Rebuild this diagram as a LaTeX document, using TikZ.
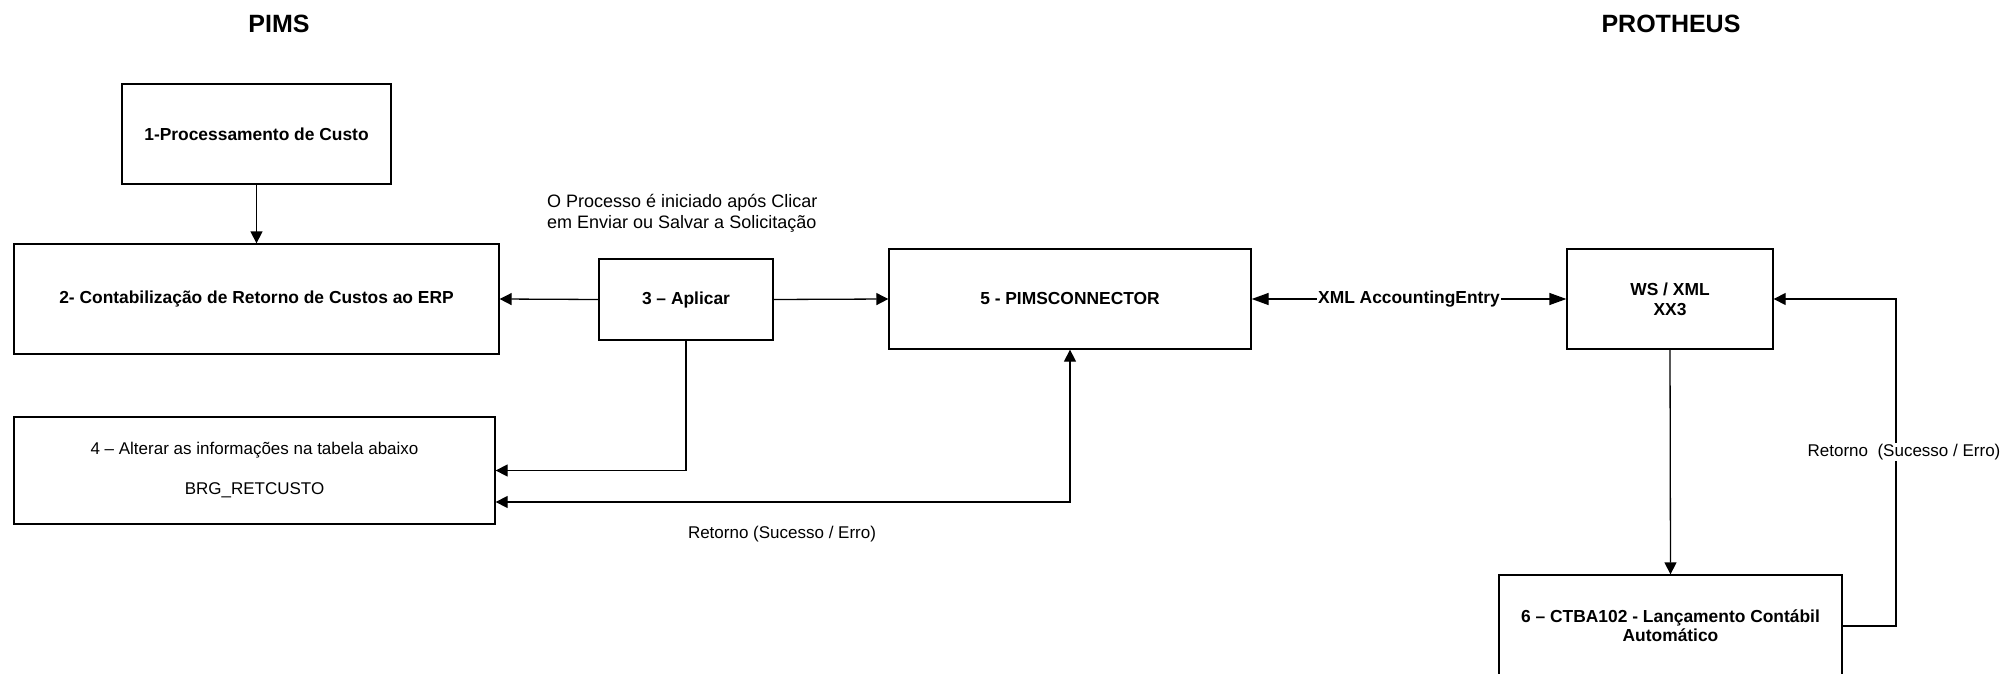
\documentclass[tikz,border=0pt]{standalone}
\usepackage{fontspec}
\setmainfont{Liberation Sans}
\usetikzlibrary{arrows.meta}
\begin{document}
\begin{tikzpicture}[x=1pt,y=-1pt,
  box/.style={draw, line width=1.3pt, inner sep=0pt, align=center,
    font=\fontsize{17.4}{20}\selectfont\bfseries},
  plainbox/.style={box, font=\fontsize{17}{20}\selectfont},
  txt/.style={inner sep=0pt, font=\fontsize{17}{20}\selectfont},
  title/.style={inner sep=0pt, font=\fontsize{25}{30}\selectfont\bfseries},
  tip/.tip={Triangle[length=12pt,width=12pt]},
  longtip/.tip={Triangle[length=17pt,width=12pt]},
  conn/.style={line width=1.3pt, -tip},
  dconn/.style={line width=1.3pt, tip-tip}]

\useasboundingbox (0,0) rectangle (2008,674);

% titles
\node[title] (tpims) at (279,24) {PIMS};
\node[title] (tprot) at (1671,24) {PROTHEUS};

% boxes
\node[box, minimum width=269pt, minimum height=100pt] (b1) at (256.5,134) {1-Processamento de Custo};
\node[box, minimum width=485pt, minimum height=110pt] (b2) at (256.5,299) {2- Contabilização de Retorno de Custos ao ERP};
\node[box, minimum width=174pt, minimum height=81pt] (b3) at (686,299.5) {3 – Aplicar};
\node[plainbox, minimum width=481pt, minimum height=107pt] (b4) at (254.5,470.5)
  {4 – Alterar as informações na tabela abaixo\\[20pt]BRG\_RETCUSTO};
\node[box, minimum width=362pt, minimum height=100pt] (b5) at (1070,299) {5 - PIMSCONNECTOR};
\node[box, minimum width=206pt, minimum height=100pt] (ws) at (1670,299) {WS / XML\\XX3};
\node[box, minimum width=343pt, minimum height=102pt, font=\fontsize{17.4}{19}\selectfont\bfseries] (b6) at (1670.5,626)
  {6 – CTBA102 - Lançamento Contábil\\Automático};

% note
\node[inner sep=0pt, font=\fontsize{18}{21}\selectfont, anchor=west, align=left] (note) at (547,213)
  {O Processo é iniciado após Clicar\\em Enviar ou Salvar a Solicitação};

% connectors
\draw[conn] (b1.south) -- (b2.north);
\draw[conn] (b3.west) -- (b2.east);
\draw[conn] (b3.east) -- (b5.west);
\draw[conn] (b3.south) |- (b4.east);
\draw[dconn] ([yshift=-31.5pt]b4.east) -| (b5.south);
\node[txt] (lret1) at (782,534) {Retorno (Sucesso / Erro)};

\draw[line width=1.3pt, longtip-longtip] (b5.east) --
  node[fill=white, inner sep=1pt, font=\fontsize{17.4}{20}\selectfont\bfseries] (lxml) {XML AccountingEntry} (ws.west);

\draw[conn] (ws.south) -- (b6.north);
\coordinate (rx) at (1896,0);
\draw[conn] (b6.east) -- (b6.east -| rx) |- (ws.east);
\node[txt, fill=white, inner sep=1pt] (lret2) at (1904,452) {Retorno\ \ (Sucesso / Erro)};
\end{tikzpicture}
\end{document}
